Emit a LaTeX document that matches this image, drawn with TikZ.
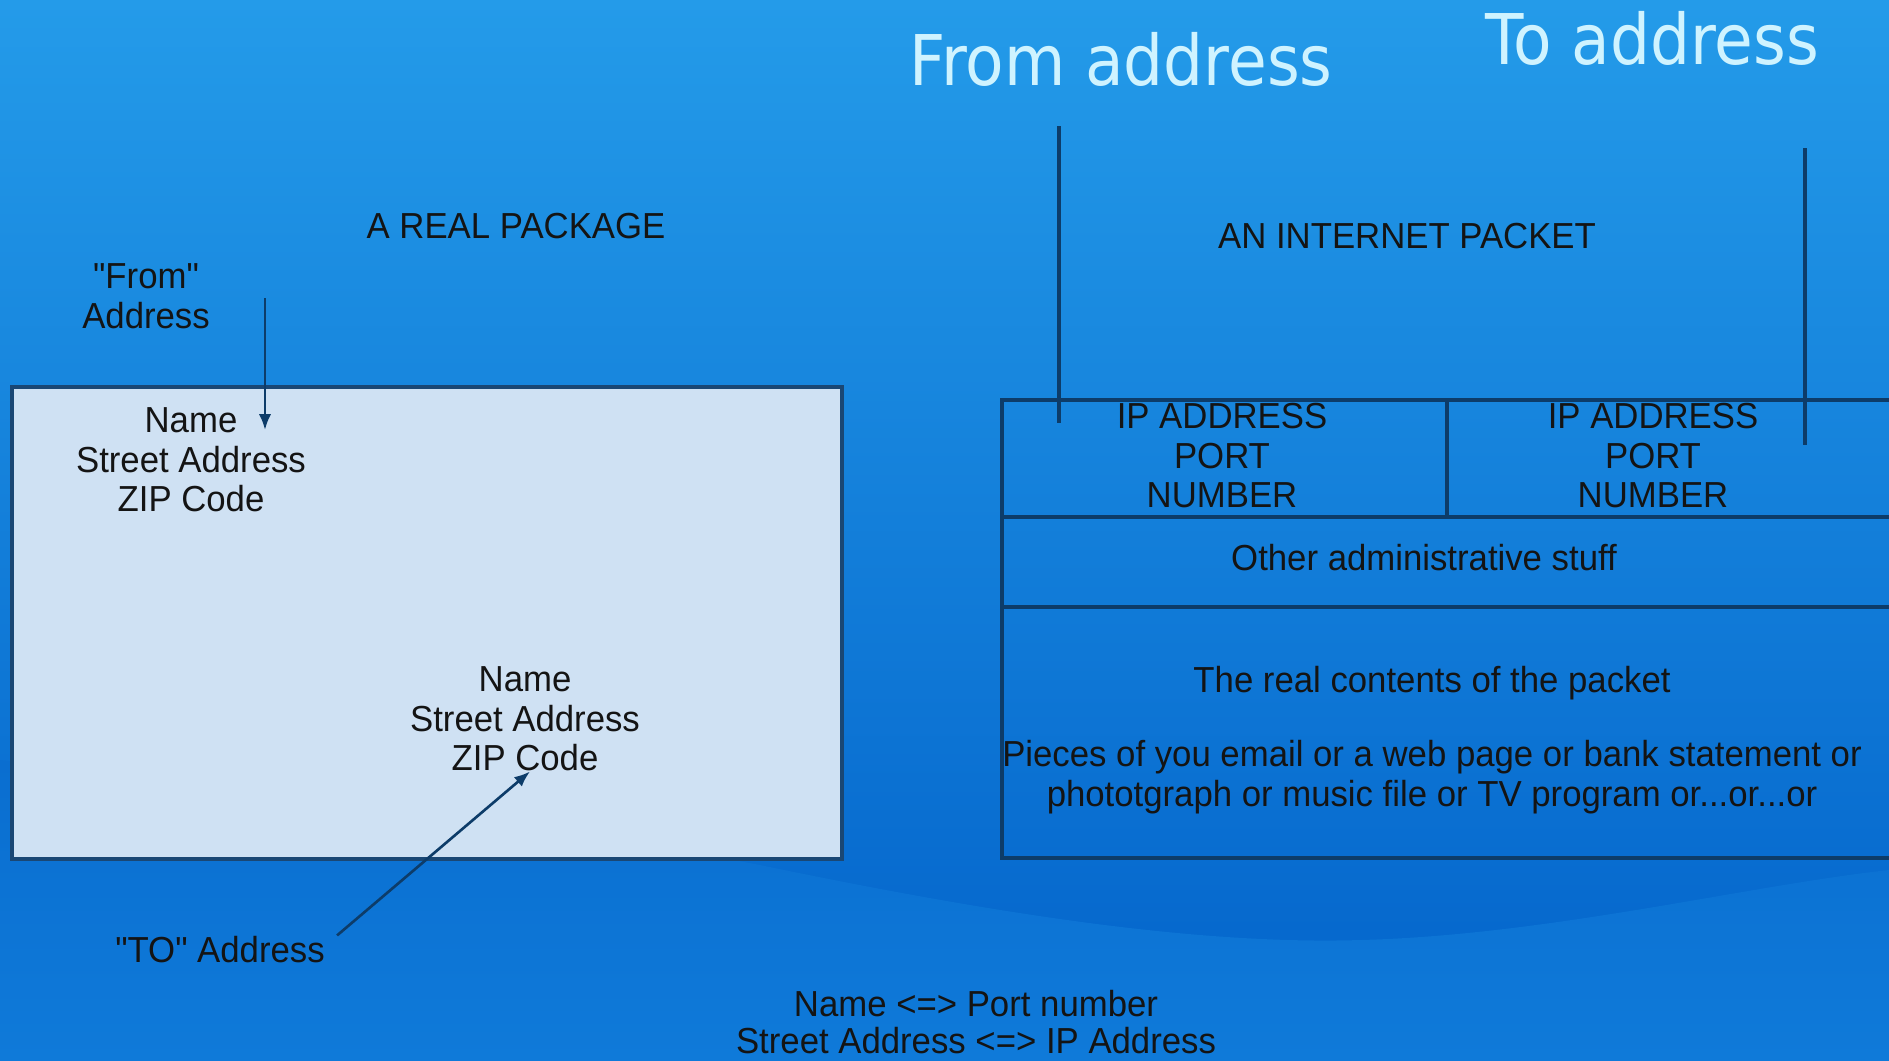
\documentclass[tikz,border=0pt]{standalone}
\usepackage{fontspec}
\setmainfont{Liberation Sans}[FakeStretch=0.96, Ligatures=TeXOff]
\newfontfamily\titlefont{DejaVu Sans}[FakeStretch=0.9]
\usepackage{tikz}
\usetikzlibrary{positioning, arrows.meta, calc}
\definecolor{bgtop}{HTML}{249BE9}
\definecolor{bgbottom}{HTML}{0262CA}
\definecolor{wavetop}{HTML}{0A6ED0}
\definecolor{wavebottom}{HTML}{0F7AD9}
\definecolor{linenavy}{HTML}{0D3C69}
\definecolor{pkgnavy}{HTML}{1A4774}
\definecolor{boxfill}{HTML}{CFE1F3}
\definecolor{titlecyan}{HTML}{CFF3FF}
\newdimen\pxu \pxu=0.02cm

\begin{document}
\begin{tikzpicture}[
    x=0.02cm, y=-0.02cm,
    every node/.style={inner sep=0pt, align=center, text=black!92, font=\fontsize{20.6}{22.5}\selectfont},
    bigtitle/.style={text=titlecyan, font=\titlefont\fontsize{39.8}{48}\selectfont, anchor=base west},
    heading/.style={anchor=base},
    pkgbox/.style={draw=pkgnavy, fill=boxfill, line width=1.9pt, minimum width=830\pxu, minimum height=472\pxu},
    cell/.style={draw=linenavy, line width=2.3pt, outer sep=0pt, anchor=north west},
    arrow/.style={-{Latex[length=9pt,width=7pt]}, line width=1.5pt, draw=linenavy},
    pointer/.style={line width=2.3pt, draw=linenavy}
]
\useasboundingbox (0,0) rectangle (1889,1061);
% Background with the light wave at the bottom
\shade[top color=bgtop, bottom color=bgbottom] (0,0) rectangle (1889,1061);
\shade[top color=wavetop, bottom color=wavebottom] (0,760) .. controls (350,790) and (600,835) .. (760,865)
  .. controls (1000,915) and (1200,945) .. (1361,940) .. controls (1550,935) and (1750,885) .. (1889,870)
  -- (1889,1061) -- (0,1061) -- cycle;
\clip (0,0) rectangle (1889,1061);

% Titles
\node[bigtitle] (fromtitle) at (909,86) {From address};
\node[bigtitle] (totitle)   at (1485,65) {To address};

% Left: the real package
\node[heading] (realhead) at (516,238) {A REAL PACKAGE};
\node (fromlabel) at (146,296) {"From"\\Address};
\node[pkgbox] (package) at (427,623) {};
\node (sender)   at (191,460) {Name\\Street Address\\ZIP Code};
\node (receiver) at (525,719) {Name\\Street Address\\ZIP Code};
\node[heading] (tolabel) at (220,962) {"TO" Address};

% Right: the internet packet
\node[heading] (nethead) at (1407,248) {AN INTERNET PACKET};
\node[cell, minimum width=445\pxu, minimum height=117\pxu] (fromcell) at (1002,400) {};
\node[cell, minimum width=448\pxu, minimum height=117\pxu] (tocell)   at (fromcell.north east) {};
\node[cell, minimum width=893\pxu, minimum height=90\pxu]  (admin)    at (fromcell.south west) {};
\node[cell, minimum width=893\pxu, minimum height=251\pxu] (contents) at (admin.south west) {};
\node (fromip) at (1222,456) {IP ADDRESS\\PORT\\NUMBER};
\node (toip)   at (1653,456) {IP ADDRESS\\PORT\\NUMBER};
\node[heading] (adminline)    at (1424,570) {Other administrative stuff};
\node[heading] (contentsline) at (1432,692) {The real contents of the packet};
\node (payload) at (1432,777) {Pieces of you email or a web page or bank statement or\\phototgraph or music file or TV program or...or...or};

% Legend
\node[font=\fontsize{20.6}{21}\selectfont] (legend) at (976,1022) {Name <=> Port number\\Street Address <=> IP Address};

% Arrows and pointers
\coordinate (fromtail) at (265,298);
\coordinate (fromtip)  at (265,430);
\draw[arrow] (fromtail) -- (fromtip);
\draw[arrow] ([xshift=12\pxu]tolabel.north east) -- ([xshift=5\pxu]receiver.south);
\coordinate (fromtop) at (1059,126);
\coordinate (fromend) at (1059,423);
\coordinate (totop)   at (1805,148);
\coordinate (toend)   at (1805,445);
\draw[pointer] (fromtop) -- (fromend);
\draw[pointer] (totop) -- (toend);

\end{tikzpicture}
\end{document}
